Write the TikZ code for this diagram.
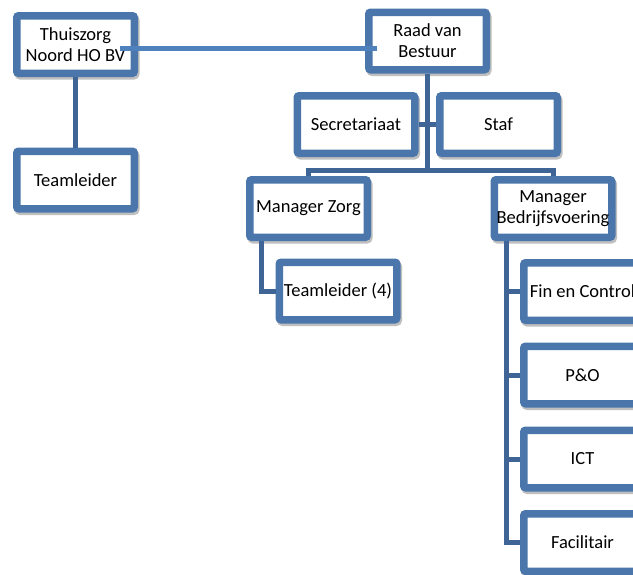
\documentclass[tikz,border=0pt]{standalone}
\usepackage{fontspec}
\setmainfont{Carlito}
\usetikzlibrary{shadows}

\definecolor{boxblue}{RGB}{74,118,172}
\definecolor{linkblue}{RGB}{62,101,150}
\definecolor{lineblue}{RGB}{79,129,189}

\tikzset{
    unit/.style={draw=boxblue, fill=white, line width=7.5pt, rounded corners=2pt,
        minimum width=117.5pt, minimum height=57.5pt, inner sep=0pt, align=center,
        font=\fontsize{18.5}{21}\selectfont,
        drop shadow={shadow xshift=1.5pt, shadow yshift=-2.5pt, opacity=.25,
            fill=black, draw=black, line width=7.5pt}},
    link/.style={draw=linkblue, line width=5pt},
    hlink/.style={draw=lineblue, line width=5pt}
}

\begin{document}
\begin{tikzpicture}[x=1pt, y=-1pt]
        \useasboundingbox (0,0) rectangle (633,574);
        \clip (0,0) rectangle (633,574);

        % bovenste niveau
        \node[unit] (thuis) at (75.5,44.5) {Thuiszorg\\Noord HO BV};
        \node[unit] (tl) at (75.5,180) {Teamleider};
        \node[unit] (raad) at (427.5,41) {Raad van\\Bestuur};

        % staf en secretariaat
        \node[unit] (secr) at (356,124.5) {Secretariaat};
        \node[unit] (staf) at (498.5,124.5) {Staf};

        % managers
        \node[unit] (mzorg) at (308.5,208.5) {Manager Zorg};
        \node[unit] (mbedr) at (553,208.5) {Manager\\Bedrijfsvoering};
        \node[unit] (tl4) at (338,291) {Teamleider (4)};

        % afdelingen bedrijfsvoering
        \node[unit] (fin) at (582.5,291.5) {Fin en Control};
        \node[unit] (po) at (582.5,375) {P\&O};
        \node[unit] (ict) at (582.5,459) {ICT};
        \node[unit] (fac) at (582.5,542.5) {Facilitair};

        % lijnen
        \coordinate (split) at (raad.south |- 0,170);
        \draw[link] (thuis) -- (tl);
        \draw[link] (raad) -- (split);
        \draw[link] (secr.east) -- (staf.west);
        \draw[link] (mzorg.north) |- (split) -| (mbedr.north);
        \draw[link] ([xshift=15pt]mzorg.south west) |- (tl4.west);
        \foreach \afd in {fin,po,ict,fac}
            \draw[link] ([xshift=16pt]mbedr.south west) |- (\afd.west);
        \draw[hlink] ([xshift=-18pt,yshift=-3.5pt]thuis.east) -- ([xshift=12pt,yshift=-7pt]raad.west);
    \end{tikzpicture}
\end{document}
